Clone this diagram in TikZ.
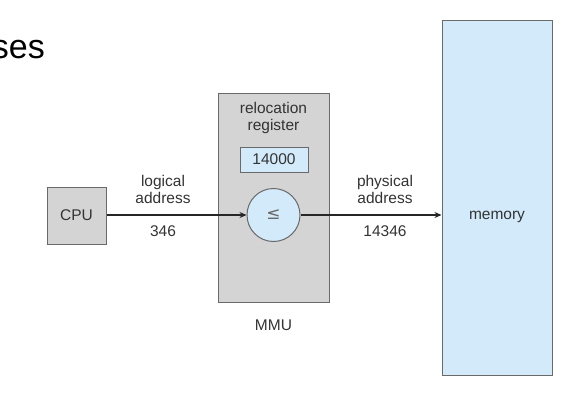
\documentclass[tikz,border=0pt]{standalone}
\usepackage{fontspec}
\setmainfont{Liberation Sans}
\newfontfamily\symfont{DejaVu Sans}
\usetikzlibrary{arrows.meta}
\definecolor{boxgray}{HTML}{D4D4D4}
\definecolor{lblue}{HTML}{D2EAF9}
\definecolor{edge}{HTML}{6A6A6A}
\definecolor{txt}{HTML}{333333}
\tikzset{
  blk/.style={draw=edge, line width=1pt, inner sep=0pt},
  lbl/.style={text=txt, font=\fontsize{15.5}{17}\selectfont, inner sep=0pt, align=center},
  conn/.style={draw=black!85, line width=1.1pt, -{Stealth[length=7pt,width=6pt]}}
}
\begin{document}
\begin{tikzpicture}[x=1pt,y=-1pt]
\useasboundingbox (0,0) rectangle (582,402);
\begin{scope}
\clip (0,0) rectangle (582,402);
\node[anchor=base east, inner sep=0pt, font=\fontsize{34}{36}\selectfont] (title) at (45,58) {ses};
\end{scope}
% memory
\node[blk, fill=lblue, minimum width=110pt, minimum height=355pt] (mem) at (497,197.5) {};
\node[lbl] (memtxt) at (497,217) {memory};
% MMU
\node[blk, fill=boxgray, minimum width=111pt, minimum height=209pt] (mmu) at (273.5,197.5) {};
\node[lbl] (mmutxt) at (273.5,325) {MMU};
\node[lbl] (reloc) at (273.5,117.5) {relocation\\register};
\node[blk, fill=lblue, minimum width=68pt, minimum height=25pt, lbl] (reg) at (274,159.5) {14000};
\node[circle, draw=edge, line width=1pt, fill=lblue, minimum size=53pt, inner sep=0pt] (cmp) at (273.5,215) {};
\node[text=edge, inner sep=0pt, font=\symfont\fontsize{17}{17}\selectfont] (sym) at (273.5,215) {≤};
% CPU
\node[blk, fill=boxgray, minimum width=59pt, minimum height=57pt, lbl] (cpu) at (76.5,215.5) {CPU};
% connectors
\draw[conn] (cpu.east |- cmp.west) -- (cmp.west);
\draw[conn] (cmp.east) -- (cmp.east -| mem.west);
% labels
\node[lbl] (logical) at (163,189.5) {logical\\address};
\node[lbl] (n346) at (163,231) {346};
\node[lbl] (physical) at (385,189.5) {physical\\address};
\node[lbl] (n14346) at (385,231) {14346};
\end{tikzpicture}
\end{document}
